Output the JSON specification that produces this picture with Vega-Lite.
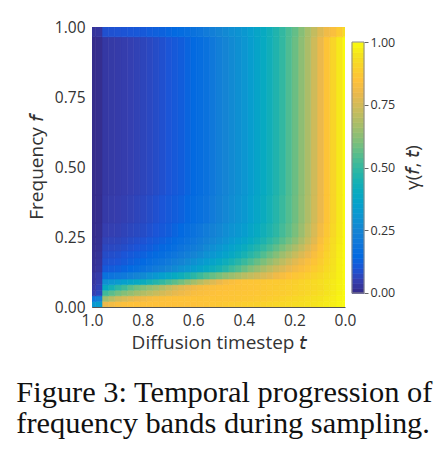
{
  "$schema": "https://vega.github.io/schema/vega-lite/v6.json",
  "background": "white",
  "padding": {"left": 16, "top": 20, "right": 10, "bottom": 0},
  "spacing": 7,
  "bounds": "flush",
  "config": {
    "view": {"stroke": null},
    "font": "Open Sans",
    "axis": {
      "labelFont": "Open Sans",
      "titleFont": "Open Sans",
      "labelColor": "#333333",
      "titleColor": "#333333",
      "titleFontWeight": "normal",
      "grid": false,
      "zindex": 1
    }
  },
  "title": {
    "text": ["Figure 3: Temporal progression of", "frequency bands during sampling."],
    "orient": "bottom",
    "anchor": "start",
    "font": "Liberation Serif",
    "fontSize": 30.4,
    "fontWeight": "normal",
    "color": "#111111",
    "lineHeight": 31,
    "offset": 25.5,
    "dx": -11
  },
  "datasets": {
    "bands": [
      {"r": 1, "f": 0, "h": 0.02},
      {"r": 2, "f": 0.02, "h": 0.04},
      {"r": 3, "f": 0.04, "h": 0.06},
      {"r": 4, "f": 0.06, "h": 0.08},
      {"r": 5, "f": 0.08, "h": 0.1},
      {"r": 6, "f": 0.1, "h": 0.125},
      {"r": 7, "f": 0.125, "h": 0.15},
      {"r": 8, "f": 0.15, "h": 0.175},
      {"r": 9, "f": 0.175, "h": 0.2},
      {"r": 10, "f": 0.2, "h": 0.225},
      {"r": 11, "f": 0.225, "h": 0.25},
      {"r": 12, "f": 0.25, "h": 0.3},
      {"r": 13, "f": 0.3, "h": 0.4},
      {"r": 14, "f": 0.4, "h": 0.965},
      {"r": 15, "f": 0.965, "h": 1}
    ],
    "cells": [
      {"t":0,"r":1,"g":1},{"t":0.025,"r":1,"g":0.988},{"t":0.05,"r":1,"g":0.976},{"t":0.075,"r":1,"g":0.967},{"t":0.1,"r":1,"g":0.958},{"t":0.125,"r":1,"g":0.95},{"t":0.15,"r":1,"g":0.942},{"t":0.175,"r":1,"g":0.936},{"t":0.2,"r":1,"g":0.93},{"t":0.225,"r":1,"g":0.923},{"t":0.25,"r":1,"g":0.918},{"t":0.275,"r":1,"g":0.913},{"t":0.3,"r":1,"g":0.908},{"t":0.325,"r":1,"g":0.903},{"t":0.35,"r":1,"g":0.897},{"t":0.375,"r":1,"g":0.893},{"t":0.4,"r":1,"g":0.89},{"t":0.425,"r":1,"g":0.885},{"t":0.45,"r":1,"g":0.88},{"t":0.475,"r":1,"g":0.875},{"t":0.5,"r":1,"g":0.87},{"t":0.525,"r":1,"g":0.865},{"t":0.55,"r":1,"g":0.86},{"t":0.575,"r":1,"g":0.855},{"t":0.6,"r":1,"g":0.85},{"t":0.625,"r":1,"g":0.85},{"t":0.65,"r":1,"g":0.85},{"t":0.675,"r":1,"g":0.85},{"t":0.7,"r":1,"g":0.85},{"t":0.725,"r":1,"g":0.85},{"t":0.75,"r":1,"g":0.85},{"t":0.775,"r":1,"g":0.85},{"t":0.8,"r":1,"g":0.85},{"t":0.825,"r":1,"g":0.85},{"t":0.85,"r":1,"g":0.85},{"t":0.875,"r":1,"g":0.845},{"t":0.9,"r":1,"g":0.835},{"t":0.925,"r":1,"g":0.82},{"t":0.95,"r":1,"g":0.8},{"t":0.975,"r":1,"g":0.34},{"t":1,"r":1,"g":0.32},
      {"t":0,"r":2,"g":1},{"t":0.025,"r":2,"g":0.985},{"t":0.05,"r":2,"g":0.97},{"t":0.075,"r":2,"g":0.96},{"t":0.1,"r":2,"g":0.95},{"t":0.125,"r":2,"g":0.942},{"t":0.15,"r":2,"g":0.934},{"t":0.175,"r":2,"g":0.926},{"t":0.2,"r":2,"g":0.918},{"t":0.225,"r":2,"g":0.91},{"t":0.25,"r":2,"g":0.902},{"t":0.275,"r":2,"g":0.895},{"t":0.3,"r":2,"g":0.888},{"t":0.325,"r":2,"g":0.882},{"t":0.35,"r":2,"g":0.877},{"t":0.375,"r":2,"g":0.873},{"t":0.4,"r":2,"g":0.87},{"t":0.425,"r":2,"g":0.867},{"t":0.45,"r":2,"g":0.864},{"t":0.475,"r":2,"g":0.861},{"t":0.5,"r":2,"g":0.86},{"t":0.525,"r":2,"g":0.859},{"t":0.55,"r":2,"g":0.858},{"t":0.575,"r":2,"g":0.857},{"t":0.6,"r":2,"g":0.856},{"t":0.625,"r":2,"g":0.854},{"t":0.65,"r":2,"g":0.852},{"t":0.675,"r":2,"g":0.85},{"t":0.7,"r":2,"g":0.847},{"t":0.725,"r":2,"g":0.843},{"t":0.75,"r":2,"g":0.837},{"t":0.775,"r":2,"g":0.828},{"t":0.8,"r":2,"g":0.815},{"t":0.825,"r":2,"g":0.8},{"t":0.85,"r":2,"g":0.78},{"t":0.875,"r":2,"g":0.76},{"t":0.9,"r":2,"g":0.74},{"t":0.925,"r":2,"g":0.7},{"t":0.95,"r":2,"g":0.66},{"t":0.975,"r":2,"g":0.24},{"t":1,"r":2,"g":0.2},
      {"t":0,"r":3,"g":1},{"t":0.025,"r":3,"g":0.98},{"t":0.05,"r":3,"g":0.965},{"t":0.075,"r":3,"g":0.95},{"t":0.1,"r":3,"g":0.935},{"t":0.125,"r":3,"g":0.925},{"t":0.15,"r":3,"g":0.916},{"t":0.175,"r":3,"g":0.908},{"t":0.2,"r":3,"g":0.9},{"t":0.225,"r":3,"g":0.891},{"t":0.25,"r":3,"g":0.885},{"t":0.275,"r":3,"g":0.88},{"t":0.3,"r":3,"g":0.876},{"t":0.325,"r":3,"g":0.872},{"t":0.35,"r":3,"g":0.868},{"t":0.375,"r":3,"g":0.866},{"t":0.4,"r":3,"g":0.864},{"t":0.425,"r":3,"g":0.861},{"t":0.45,"r":3,"g":0.858},{"t":0.475,"r":3,"g":0.855},{"t":0.5,"r":3,"g":0.852},{"t":0.525,"r":3,"g":0.848},{"t":0.55,"r":3,"g":0.843},{"t":0.575,"r":3,"g":0.838},{"t":0.6,"r":3,"g":0.832},{"t":0.625,"r":3,"g":0.82},{"t":0.65,"r":3,"g":0.805},{"t":0.675,"r":3,"g":0.79},{"t":0.7,"r":3,"g":0.77},{"t":0.725,"r":3,"g":0.75},{"t":0.75,"r":3,"g":0.73},{"t":0.775,"r":3,"g":0.71},{"t":0.8,"r":3,"g":0.69},{"t":0.825,"r":3,"g":0.665},{"t":0.85,"r":3,"g":0.64},{"t":0.875,"r":3,"g":0.615},{"t":0.9,"r":3,"g":0.59},{"t":0.925,"r":3,"g":0.555},{"t":0.95,"r":3,"g":0.52},{"t":0.975,"r":3,"g":0.07},{"t":1,"r":3,"g":0.05},
      {"t":0,"r":4,"g":1},{"t":0.025,"r":4,"g":0.98},{"t":0.05,"r":4,"g":0.965},{"t":0.075,"r":4,"g":0.95},{"t":0.1,"r":4,"g":0.93},{"t":0.125,"r":4,"g":0.922},{"t":0.15,"r":4,"g":0.915},{"t":0.175,"r":4,"g":0.907},{"t":0.2,"r":4,"g":0.9},{"t":0.225,"r":4,"g":0.893},{"t":0.25,"r":4,"g":0.887},{"t":0.275,"r":4,"g":0.882},{"t":0.3,"r":4,"g":0.877},{"t":0.325,"r":4,"g":0.872},{"t":0.35,"r":4,"g":0.867},{"t":0.375,"r":4,"g":0.863},{"t":0.4,"r":4,"g":0.86},{"t":0.425,"r":4,"g":0.857},{"t":0.45,"r":4,"g":0.853},{"t":0.475,"r":4,"g":0.85},{"t":0.5,"r":4,"g":0.847},{"t":0.525,"r":4,"g":0.842},{"t":0.55,"r":4,"g":0.836},{"t":0.575,"r":4,"g":0.828},{"t":0.6,"r":4,"g":0.815},{"t":0.625,"r":4,"g":0.795},{"t":0.65,"r":4,"g":0.775},{"t":0.675,"r":4,"g":0.75},{"t":0.7,"r":4,"g":0.72},{"t":0.725,"r":4,"g":0.69},{"t":0.75,"r":4,"g":0.66},{"t":0.775,"r":4,"g":0.64},{"t":0.8,"r":4,"g":0.615},{"t":0.825,"r":4,"g":0.59},{"t":0.85,"r":4,"g":0.56},{"t":0.875,"r":4,"g":0.52},{"t":0.9,"r":4,"g":0.49},{"t":0.925,"r":4,"g":0.44},{"t":0.95,"r":4,"g":0.4},{"t":0.975,"r":4,"g":0.06},{"t":1,"r":4,"g":0.04},
      {"t":0,"r":5,"g":1},{"t":0.025,"r":5,"g":0.98},{"t":0.05,"r":5,"g":0.965},{"t":0.075,"r":5,"g":0.95},{"t":0.1,"r":5,"g":0.935},{"t":0.125,"r":5,"g":0.925},{"t":0.15,"r":5,"g":0.915},{"t":0.175,"r":5,"g":0.905},{"t":0.2,"r":5,"g":0.895},{"t":0.225,"r":5,"g":0.888},{"t":0.25,"r":5,"g":0.882},{"t":0.275,"r":5,"g":0.877},{"t":0.3,"r":5,"g":0.874},{"t":0.325,"r":5,"g":0.87},{"t":0.35,"r":5,"g":0.866},{"t":0.375,"r":5,"g":0.862},{"t":0.4,"r":5,"g":0.858},{"t":0.425,"r":5,"g":0.85},{"t":0.45,"r":5,"g":0.84},{"t":0.475,"r":5,"g":0.825},{"t":0.5,"r":5,"g":0.8},{"t":0.525,"r":5,"g":0.77},{"t":0.55,"r":5,"g":0.735},{"t":0.575,"r":5,"g":0.7},{"t":0.6,"r":5,"g":0.665},{"t":0.625,"r":5,"g":0.63},{"t":0.65,"r":5,"g":0.59},{"t":0.675,"r":5,"g":0.56},{"t":0.7,"r":5,"g":0.53},{"t":0.725,"r":5,"g":0.5},{"t":0.75,"r":5,"g":0.47},{"t":0.775,"r":5,"g":0.44},{"t":0.8,"r":5,"g":0.41},{"t":0.825,"r":5,"g":0.39},{"t":0.85,"r":5,"g":0.37},{"t":0.875,"r":5,"g":0.35},{"t":0.9,"r":5,"g":0.33},{"t":0.925,"r":5,"g":0.31},{"t":0.95,"r":5,"g":0.29},{"t":0.975,"r":5,"g":0.05},{"t":1,"r":5,"g":0.03},
      {"t":0,"r":6,"g":1},{"t":0.025,"r":6,"g":0.975},{"t":0.05,"r":6,"g":0.955},{"t":0.075,"r":6,"g":0.94},{"t":0.1,"r":6,"g":0.92},{"t":0.125,"r":6,"g":0.905},{"t":0.15,"r":6,"g":0.89},{"t":0.175,"r":6,"g":0.875},{"t":0.2,"r":6,"g":0.865},{"t":0.225,"r":6,"g":0.85},{"t":0.25,"r":6,"g":0.83},{"t":0.275,"r":6,"g":0.81},{"t":0.3,"r":6,"g":0.78},{"t":0.325,"r":6,"g":0.76},{"t":0.35,"r":6,"g":0.74},{"t":0.375,"r":6,"g":0.72},{"t":0.4,"r":6,"g":0.7},{"t":0.425,"r":6,"g":0.675},{"t":0.45,"r":6,"g":0.65},{"t":0.475,"r":6,"g":0.63},{"t":0.5,"r":6,"g":0.6},{"t":0.525,"r":6,"g":0.575},{"t":0.55,"r":6,"g":0.545},{"t":0.575,"r":6,"g":0.515},{"t":0.6,"r":6,"g":0.485},{"t":0.625,"r":6,"g":0.455},{"t":0.65,"r":6,"g":0.425},{"t":0.675,"r":6,"g":0.4},{"t":0.7,"r":6,"g":0.375},{"t":0.725,"r":6,"g":0.35},{"t":0.75,"r":6,"g":0.32},{"t":0.775,"r":6,"g":0.295},{"t":0.8,"r":6,"g":0.27},{"t":0.825,"r":6,"g":0.25},{"t":0.85,"r":6,"g":0.23},{"t":0.875,"r":6,"g":0.21},{"t":0.9,"r":6,"g":0.2},{"t":0.925,"r":6,"g":0.19},{"t":0.95,"r":6,"g":0.18},{"t":0.975,"r":6,"g":0.045},{"t":1,"r":6,"g":0.03},
      {"t":0,"r":7,"g":1},{"t":0.025,"r":7,"g":0.975},{"t":0.05,"r":7,"g":0.95},{"t":0.075,"r":7,"g":0.925},{"t":0.1,"r":7,"g":0.9},{"t":0.125,"r":7,"g":0.88},{"t":0.15,"r":7,"g":0.86},{"t":0.175,"r":7,"g":0.84},{"t":0.2,"r":7,"g":0.82},{"t":0.225,"r":7,"g":0.795},{"t":0.25,"r":7,"g":0.765},{"t":0.275,"r":7,"g":0.74},{"t":0.3,"r":7,"g":0.71},{"t":0.325,"r":7,"g":0.68},{"t":0.35,"r":7,"g":0.645},{"t":0.375,"r":7,"g":0.615},{"t":0.4,"r":7,"g":0.58},{"t":0.425,"r":7,"g":0.545},{"t":0.45,"r":7,"g":0.515},{"t":0.475,"r":7,"g":0.48},{"t":0.5,"r":7,"g":0.45},{"t":0.525,"r":7,"g":0.42},{"t":0.55,"r":7,"g":0.395},{"t":0.575,"r":7,"g":0.365},{"t":0.6,"r":7,"g":0.34},{"t":0.625,"r":7,"g":0.315},{"t":0.65,"r":7,"g":0.295},{"t":0.675,"r":7,"g":0.27},{"t":0.7,"r":7,"g":0.25},{"t":0.725,"r":7,"g":0.23},{"t":0.75,"r":7,"g":0.215},{"t":0.775,"r":7,"g":0.195},{"t":0.8,"r":7,"g":0.18},{"t":0.825,"r":7,"g":0.165},{"t":0.85,"r":7,"g":0.152},{"t":0.875,"r":7,"g":0.138},{"t":0.9,"r":7,"g":0.125},{"t":0.925,"r":7,"g":0.117},{"t":0.95,"r":7,"g":0.11},{"t":0.975,"r":7,"g":0.03},{"t":1,"r":7,"g":0.018},
      {"t":0,"r":8,"g":1},{"t":0.025,"r":8,"g":0.975},{"t":0.05,"r":8,"g":0.945},{"t":0.075,"r":8,"g":0.915},{"t":0.1,"r":8,"g":0.885},{"t":0.125,"r":8,"g":0.86},{"t":0.15,"r":8,"g":0.835},{"t":0.175,"r":8,"g":0.81},{"t":0.2,"r":8,"g":0.78},{"t":0.225,"r":8,"g":0.745},{"t":0.25,"r":8,"g":0.71},{"t":0.275,"r":8,"g":0.675},{"t":0.3,"r":8,"g":0.64},{"t":0.325,"r":8,"g":0.605},{"t":0.35,"r":8,"g":0.575},{"t":0.375,"r":8,"g":0.54},{"t":0.4,"r":8,"g":0.51},{"t":0.425,"r":8,"g":0.48},{"t":0.45,"r":8,"g":0.45},{"t":0.475,"r":8,"g":0.42},{"t":0.5,"r":8,"g":0.39},{"t":0.525,"r":8,"g":0.365},{"t":0.55,"r":8,"g":0.34},{"t":0.575,"r":8,"g":0.315},{"t":0.6,"r":8,"g":0.29},{"t":0.625,"r":8,"g":0.27},{"t":0.65,"r":8,"g":0.25},{"t":0.675,"r":8,"g":0.23},{"t":0.7,"r":8,"g":0.21},{"t":0.725,"r":8,"g":0.195},{"t":0.75,"r":8,"g":0.18},{"t":0.775,"r":8,"g":0.165},{"t":0.8,"r":8,"g":0.15},{"t":0.825,"r":8,"g":0.137},{"t":0.85,"r":8,"g":0.125},{"t":0.875,"r":8,"g":0.112},{"t":0.9,"r":8,"g":0.1},{"t":0.925,"r":8,"g":0.095},{"t":0.95,"r":8,"g":0.09},{"t":0.975,"r":8,"g":0.025},{"t":1,"r":8,"g":0.015},
      {"t":0,"r":9,"g":1},{"t":0.025,"r":9,"g":0.97},{"t":0.05,"r":9,"g":0.94},{"t":0.075,"r":9,"g":0.905},{"t":0.1,"r":9,"g":0.87},{"t":0.125,"r":9,"g":0.835},{"t":0.15,"r":9,"g":0.8},{"t":0.175,"r":9,"g":0.765},{"t":0.2,"r":9,"g":0.73},{"t":0.225,"r":9,"g":0.69},{"t":0.25,"r":9,"g":0.655},{"t":0.275,"r":9,"g":0.615},{"t":0.3,"r":9,"g":0.58},{"t":0.325,"r":9,"g":0.545},{"t":0.35,"r":9,"g":0.51},{"t":0.375,"r":9,"g":0.48},{"t":0.4,"r":9,"g":0.45},{"t":0.425,"r":9,"g":0.42},{"t":0.45,"r":9,"g":0.39},{"t":0.475,"r":9,"g":0.365},{"t":0.5,"r":9,"g":0.34},{"t":0.525,"r":9,"g":0.315},{"t":0.55,"r":9,"g":0.295},{"t":0.575,"r":9,"g":0.27},{"t":0.6,"r":9,"g":0.25},{"t":0.625,"r":9,"g":0.23},{"t":0.65,"r":9,"g":0.215},{"t":0.675,"r":9,"g":0.195},{"t":0.7,"r":9,"g":0.18},{"t":0.725,"r":9,"g":0.165},{"t":0.75,"r":9,"g":0.155},{"t":0.775,"r":9,"g":0.142},{"t":0.8,"r":9,"g":0.13},{"t":0.825,"r":9,"g":0.12},{"t":0.85,"r":9,"g":0.11},{"t":0.875,"r":9,"g":0.1},{"t":0.9,"r":9,"g":0.09},{"t":0.925,"r":9,"g":0.085},{"t":0.95,"r":9,"g":0.08},{"t":0.975,"r":9,"g":0.022},{"t":1,"r":9,"g":0.012},
      {"t":0,"r":10,"g":1},{"t":0.025,"r":10,"g":0.97},{"t":0.05,"r":10,"g":0.935},{"t":0.075,"r":10,"g":0.895},{"t":0.1,"r":10,"g":0.855},{"t":0.125,"r":10,"g":0.81},{"t":0.15,"r":10,"g":0.765},{"t":0.175,"r":10,"g":0.72},{"t":0.2,"r":10,"g":0.68},{"t":0.225,"r":10,"g":0.64},{"t":0.25,"r":10,"g":0.6},{"t":0.275,"r":10,"g":0.565},{"t":0.3,"r":10,"g":0.53},{"t":0.325,"r":10,"g":0.5},{"t":0.35,"r":10,"g":0.47},{"t":0.375,"r":10,"g":0.44},{"t":0.4,"r":10,"g":0.41},{"t":0.425,"r":10,"g":0.385},{"t":0.45,"r":10,"g":0.36},{"t":0.475,"r":10,"g":0.335},{"t":0.5,"r":10,"g":0.31},{"t":0.525,"r":10,"g":0.285},{"t":0.55,"r":10,"g":0.265},{"t":0.575,"r":10,"g":0.24},{"t":0.6,"r":10,"g":0.22},{"t":0.625,"r":10,"g":0.205},{"t":0.65,"r":10,"g":0.19},{"t":0.675,"r":10,"g":0.17},{"t":0.7,"r":10,"g":0.155},{"t":0.725,"r":10,"g":0.145},{"t":0.75,"r":10,"g":0.133},{"t":0.775,"r":10,"g":0.12},{"t":0.8,"r":10,"g":0.11},{"t":0.825,"r":10,"g":0.1},{"t":0.85,"r":10,"g":0.092},{"t":0.875,"r":10,"g":0.083},{"t":0.9,"r":10,"g":0.075},{"t":0.925,"r":10,"g":0.072},{"t":0.95,"r":10,"g":0.07},{"t":0.975,"r":10,"g":0.018},{"t":1,"r":10,"g":0.01},
      {"t":0,"r":11,"g":1},{"t":0.025,"r":11,"g":0.965},{"t":0.05,"r":11,"g":0.93},{"t":0.075,"r":11,"g":0.885},{"t":0.1,"r":11,"g":0.84},{"t":0.125,"r":11,"g":0.78},{"t":0.15,"r":11,"g":0.73},{"t":0.175,"r":11,"g":0.68},{"t":0.2,"r":11,"g":0.63},{"t":0.225,"r":11,"g":0.59},{"t":0.25,"r":11,"g":0.555},{"t":0.275,"r":11,"g":0.52},{"t":0.3,"r":11,"g":0.49},{"t":0.325,"r":11,"g":0.46},{"t":0.35,"r":11,"g":0.43},{"t":0.375,"r":11,"g":0.4},{"t":0.4,"r":11,"g":0.37},{"t":0.425,"r":11,"g":0.35},{"t":0.45,"r":11,"g":0.325},{"t":0.475,"r":11,"g":0.3},{"t":0.5,"r":11,"g":0.28},{"t":0.525,"r":11,"g":0.26},{"t":0.55,"r":11,"g":0.24},{"t":0.575,"r":11,"g":0.22},{"t":0.6,"r":11,"g":0.2},{"t":0.625,"r":11,"g":0.185},{"t":0.65,"r":11,"g":0.17},{"t":0.675,"r":11,"g":0.155},{"t":0.7,"r":11,"g":0.14},{"t":0.725,"r":11,"g":0.128},{"t":0.75,"r":11,"g":0.117},{"t":0.775,"r":11,"g":0.106},{"t":0.8,"r":11,"g":0.095},{"t":0.825,"r":11,"g":0.087},{"t":0.85,"r":11,"g":0.08},{"t":0.875,"r":11,"g":0.072},{"t":0.9,"r":11,"g":0.065},{"t":0.925,"r":11,"g":0.062},{"t":0.95,"r":11,"g":0.06},{"t":0.975,"r":11,"g":0.015},{"t":1,"r":11,"g":0.008},
      {"t":0,"r":12,"g":1},{"t":0.025,"r":12,"g":0.96},{"t":0.05,"r":12,"g":0.92},{"t":0.075,"r":12,"g":0.87},{"t":0.1,"r":12,"g":0.82},{"t":0.125,"r":12,"g":0.76},{"t":0.15,"r":12,"g":0.705},{"t":0.175,"r":12,"g":0.65},{"t":0.2,"r":12,"g":0.6},{"t":0.225,"r":12,"g":0.56},{"t":0.25,"r":12,"g":0.525},{"t":0.275,"r":12,"g":0.49},{"t":0.3,"r":12,"g":0.46},{"t":0.325,"r":12,"g":0.43},{"t":0.35,"r":12,"g":0.4},{"t":0.375,"r":12,"g":0.37},{"t":0.4,"r":12,"g":0.34},{"t":0.425,"r":12,"g":0.32},{"t":0.45,"r":12,"g":0.3},{"t":0.475,"r":12,"g":0.28},{"t":0.5,"r":12,"g":0.26},{"t":0.525,"r":12,"g":0.24},{"t":0.55,"r":12,"g":0.22},{"t":0.575,"r":12,"g":0.2},{"t":0.6,"r":12,"g":0.18},{"t":0.625,"r":12,"g":0.165},{"t":0.65,"r":12,"g":0.15},{"t":0.675,"r":12,"g":0.135},{"t":0.7,"r":12,"g":0.12},{"t":0.725,"r":12,"g":0.11},{"t":0.75,"r":12,"g":0.1},{"t":0.775,"r":12,"g":0.09},{"t":0.8,"r":12,"g":0.08},{"t":0.825,"r":12,"g":0.073},{"t":0.85,"r":12,"g":0.067},{"t":0.875,"r":12,"g":0.061},{"t":0.9,"r":12,"g":0.055},{"t":0.925,"r":12,"g":0.052},{"t":0.95,"r":12,"g":0.05},{"t":0.975,"r":12,"g":0.012},{"t":1,"r":12,"g":0.006},
      {"t":0,"r":13,"g":1},{"t":0.025,"r":13,"g":0.96},{"t":0.05,"r":13,"g":0.91},{"t":0.075,"r":13,"g":0.86},{"t":0.1,"r":13,"g":0.8},{"t":0.125,"r":13,"g":0.745},{"t":0.15,"r":13,"g":0.685},{"t":0.175,"r":13,"g":0.635},{"t":0.2,"r":13,"g":0.585},{"t":0.225,"r":13,"g":0.545},{"t":0.25,"r":13,"g":0.51},{"t":0.275,"r":13,"g":0.475},{"t":0.3,"r":13,"g":0.44},{"t":0.325,"r":13,"g":0.41},{"t":0.35,"r":13,"g":0.38},{"t":0.375,"r":13,"g":0.35},{"t":0.4,"r":13,"g":0.32},{"t":0.425,"r":13,"g":0.3},{"t":0.45,"r":13,"g":0.28},{"t":0.475,"r":13,"g":0.26},{"t":0.5,"r":13,"g":0.24},{"t":0.525,"r":13,"g":0.215},{"t":0.55,"r":13,"g":0.19},{"t":0.575,"r":13,"g":0.175},{"t":0.6,"r":13,"g":0.16},{"t":0.625,"r":13,"g":0.145},{"t":0.65,"r":13,"g":0.13},{"t":0.675,"r":13,"g":0.12},{"t":0.7,"r":13,"g":0.11},{"t":0.725,"r":13,"g":0.1},{"t":0.75,"r":13,"g":0.09},{"t":0.775,"r":13,"g":0.08},{"t":0.8,"r":13,"g":0.072},{"t":0.825,"r":13,"g":0.065},{"t":0.85,"r":13,"g":0.058},{"t":0.875,"r":13,"g":0.053},{"t":0.9,"r":13,"g":0.048},{"t":0.925,"r":13,"g":0.044},{"t":0.95,"r":13,"g":0.04},{"t":0.975,"r":13,"g":0.01},{"t":1,"r":13,"g":0.005},
      {"t":0,"r":14,"g":1},{"t":0.025,"r":14,"g":0.96},{"t":0.05,"r":14,"g":0.91},{"t":0.075,"r":14,"g":0.86},{"t":0.1,"r":14,"g":0.8},{"t":0.125,"r":14,"g":0.74},{"t":0.15,"r":14,"g":0.68},{"t":0.175,"r":14,"g":0.63},{"t":0.2,"r":14,"g":0.58},{"t":0.225,"r":14,"g":0.54},{"t":0.25,"r":14,"g":0.5},{"t":0.275,"r":14,"g":0.465},{"t":0.3,"r":14,"g":0.43},{"t":0.325,"r":14,"g":0.4},{"t":0.35,"r":14,"g":0.37},{"t":0.375,"r":14,"g":0.34},{"t":0.4,"r":14,"g":0.31},{"t":0.425,"r":14,"g":0.29},{"t":0.45,"r":14,"g":0.27},{"t":0.475,"r":14,"g":0.25},{"t":0.5,"r":14,"g":0.23},{"t":0.525,"r":14,"g":0.205},{"t":0.55,"r":14,"g":0.18},{"t":0.575,"r":14,"g":0.165},{"t":0.6,"r":14,"g":0.15},{"t":0.625,"r":14,"g":0.135},{"t":0.65,"r":14,"g":0.12},{"t":0.675,"r":14,"g":0.11},{"t":0.7,"r":14,"g":0.1},{"t":0.725,"r":14,"g":0.09},{"t":0.75,"r":14,"g":0.08},{"t":0.775,"r":14,"g":0.072},{"t":0.8,"r":14,"g":0.065},{"t":0.825,"r":14,"g":0.058},{"t":0.85,"r":14,"g":0.052},{"t":0.875,"r":14,"g":0.047},{"t":0.9,"r":14,"g":0.043},{"t":0.925,"r":14,"g":0.039},{"t":0.95,"r":14,"g":0.035},{"t":0.975,"r":14,"g":0.01},{"t":1,"r":14,"g":0.005},
      {"t":0,"r":15,"g":0.93},{"t":0.025,"r":15,"g":0.88},{"t":0.05,"r":15,"g":0.84},{"t":0.075,"r":15,"g":0.81},{"t":0.1,"r":15,"g":0.77},{"t":0.125,"r":15,"g":0.72},{"t":0.15,"r":15,"g":0.67},{"t":0.175,"r":15,"g":0.62},{"t":0.2,"r":15,"g":0.57},{"t":0.225,"r":15,"g":0.535},{"t":0.25,"r":15,"g":0.5},{"t":0.275,"r":15,"g":0.465},{"t":0.3,"r":15,"g":0.43},{"t":0.325,"r":15,"g":0.4},{"t":0.35,"r":15,"g":0.375},{"t":0.375,"r":15,"g":0.345},{"t":0.4,"r":15,"g":0.32},{"t":0.425,"r":15,"g":0.3},{"t":0.45,"r":15,"g":0.285},{"t":0.475,"r":15,"g":0.265},{"t":0.5,"r":15,"g":0.25},{"t":0.525,"r":15,"g":0.23},{"t":0.55,"r":15,"g":0.215},{"t":0.575,"r":15,"g":0.195},{"t":0.6,"r":15,"g":0.18},{"t":0.625,"r":15,"g":0.17},{"t":0.65,"r":15,"g":0.16},{"t":0.675,"r":15,"g":0.15},{"t":0.7,"r":15,"g":0.14},{"t":0.725,"r":15,"g":0.132},{"t":0.75,"r":15,"g":0.125},{"t":0.775,"r":15,"g":0.118},{"t":0.8,"r":15,"g":0.11},{"t":0.825,"r":15,"g":0.106},{"t":0.85,"r":15,"g":0.102},{"t":0.875,"r":15,"g":0.098},{"t":0.9,"r":15,"g":0.095},{"t":0.925,"r":15,"g":0.092},{"t":0.95,"r":15,"g":0.09},{"t":0.975,"r":15,"g":0.03},{"t":1,"r":15,"g":0.025}
    ],
    "bar": [
      {"c":0.01},{"c":0.03},{"c":0.05},{"c":0.07},{"c":0.09},{"c":0.11},{"c":0.13},{"c":0.15},{"c":0.17},{"c":0.19},
      {"c":0.21},{"c":0.23},{"c":0.25},{"c":0.27},{"c":0.29},{"c":0.31},{"c":0.33},{"c":0.35},{"c":0.37},{"c":0.39},
      {"c":0.41},{"c":0.43},{"c":0.45},{"c":0.47},{"c":0.49},{"c":0.51},{"c":0.53},{"c":0.55},{"c":0.57},{"c":0.59},
      {"c":0.61},{"c":0.63},{"c":0.65},{"c":0.67},{"c":0.69},{"c":0.71},{"c":0.73},{"c":0.75},{"c":0.77},{"c":0.79},
      {"c":0.81},{"c":0.83},{"c":0.85},{"c":0.87},{"c":0.89},{"c":0.91},{"c":0.93},{"c":0.95},{"c":0.97},{"c":0.99}
    ]
  },
  "hconcat": [
    {
      "width": 253,
      "height": 280,
      "data": {"name": "cells"},
      "transform": [
        {"lookup": "r", "from": {"data": {"name": "bands"}, "key": "r", "fields": ["f", "h"]}}
      ],
      "mark": {"type": "rect", "strokeWidth": 0.6, "clip": true},
      "encoding": {
        "x": {
          "field": "t",
          "type": "quantitative",
          "bin": {"extent": [-0.0125, 1.0125], "step": 0.025, "nice": false},
          "scale": {"domain": [0, 1], "reverse": true, "nice": false, "zero": false},
          "axis": {
            "values": [0, 0.2, 0.4, 0.6, 0.8, 1],
            "format": ".1f",
            "labelFontSize": 15.5,
            "labelPadding": 6,
            "labelFlush": false,
            "ticks": false,
            "tickSize": 0,
            "domainColor": "#555555",
            "title": "Diffusion timestep 𝘵",
            "titleFontSize": 19,
            "titlePadding": 5
          }
        },
        "y": {
          "field": "f",
          "type": "quantitative",
          "scale": {"domain": [0, 1], "nice": false, "zero": false},
          "axis": {
            "values": [0, 0.25, 0.5, 0.75, 1],
            "format": ".2f",
            "labelFontSize": 15.5,
            "labelPadding": 7,
            "ticks": false,
            "tickSize": 0,
            "domainColor": "#333333",
            "title": "Frequency 𝘧",
            "titleFontSize": 19,
            "titlePadding": 8
          }
        },
        "y2": {"field": "h"},
        "color": {
          "field": "g",
          "type": "quantitative",
          "scale": {
            "domain": [0, 0.05, 0.1, 0.15, 0.2, 0.25, 0.3, 0.35, 0.4, 0.45, 0.5, 0.55, 0.6, 0.65, 0.7, 0.75, 0.8, 0.85, 0.9, 0.95, 1],
            "range": ["#352a87", "#353eaf", "#1b55d7", "#036ae1", "#0f77db", "#1484d4", "#0d93d2", "#06a0cd", "#07aac1", "#18b1b2", "#32b8a1", "#55bd8e", "#7abf7c", "#9bbe6f", "#b8bd63", "#d3bb58", "#ecb94c", "#fec13a", "#fad12b", "#f5e31e", "#f9fb0e"],
            "interpolate": "rgb"
          },
          "legend": null
        },
        "stroke": {
          "field": "g",
          "type": "quantitative",
          "scale": {
            "domain": [0, 0.05, 0.1, 0.15, 0.2, 0.25, 0.3, 0.35, 0.4, 0.45, 0.5, 0.55, 0.6, 0.65, 0.7, 0.75, 0.8, 0.85, 0.9, 0.95, 1],
            "range": ["#352a87", "#353eaf", "#1b55d7", "#036ae1", "#0f77db", "#1484d4", "#0d93d2", "#06a0cd", "#07aac1", "#18b1b2", "#32b8a1", "#55bd8e", "#7abf7c", "#9bbe6f", "#b8bd63", "#d3bb58", "#ecb94c", "#fec13a", "#fad12b", "#f5e31e", "#f9fb0e"],
            "interpolate": "rgb"
          },
          "legend": null
        }
      }
    },
    {
      "width": 12,
      "height": 280,
      "layer": [
        {
          "data": {"name": "bar"},
          "mark": {"type": "rect", "strokeWidth": 0.6},
          "encoding": {
            "y": {
              "field": "c",
              "type": "quantitative",
              "bin": {"extent": [0, 1], "step": 0.02, "nice": false},
              "scale": {"domain": [-0.0558, 1.0598], "nice": false, "zero": false},
              "axis": {
                "orient": "right",
                "values": [0, 0.25, 0.5, 0.75, 1],
                "format": ".2f",
                "labelFontSize": 12.5,
                "labelPadding": 2,
                "tickSize": 4,
                "tickColor": "#666666",
                "domain": false,
                "title": "γ(𝘧, 𝘵)",
                "titleFontSize": 19,
                "titleAngle": 270,
                "titleBaseline": "top",
                "titlePadding": 9
              }
            },
            "color": {
              "field": "c",
              "type": "quantitative",
              "scale": {
                "domain": [0, 0.05, 0.1, 0.15, 0.2, 0.25, 0.3, 0.35, 0.4, 0.45, 0.5, 0.55, 0.6, 0.65, 0.7, 0.75, 0.8, 0.85, 0.9, 0.95, 1],
                "range": ["#352a87", "#353eaf", "#1b55d7", "#036ae1", "#0f77db", "#1484d4", "#0d93d2", "#06a0cd", "#07aac1", "#18b1b2", "#32b8a1", "#55bd8e", "#7abf7c", "#9bbe6f", "#b8bd63", "#d3bb58", "#ecb94c", "#fec13a", "#fad12b", "#f5e31e", "#f9fb0e"],
                "interpolate": "rgb"
              },
              "legend": null
            },
            "stroke": {
              "field": "c",
              "type": "quantitative",
              "scale": {
                "domain": [0, 0.05, 0.1, 0.15, 0.2, 0.25, 0.3, 0.35, 0.4, 0.45, 0.5, 0.55, 0.6, 0.65, 0.7, 0.75, 0.8, 0.85, 0.9, 0.95, 1],
                "range": ["#352a87", "#353eaf", "#1b55d7", "#036ae1", "#0f77db", "#1484d4", "#0d93d2", "#06a0cd", "#07aac1", "#18b1b2", "#32b8a1", "#55bd8e", "#7abf7c", "#9bbe6f", "#b8bd63", "#d3bb58", "#ecb94c", "#fec13a", "#fad12b", "#f5e31e", "#f9fb0e"],
                "interpolate": "rgb"
              },
              "legend": null
            }
          }
        },
        {
          "data": {"values": [{"lo": 0, "hi": 1}]},
          "mark": {"type": "rect", "filled": false, "stroke": "#8a8a8a", "strokeWidth": 1},
          "encoding": {
            "y": {"field": "lo", "type": "quantitative", "title": "γ(𝘧, 𝘵)"},
            "y2": {"field": "hi"}
          }
        }
      ]
    }
  ]
}
